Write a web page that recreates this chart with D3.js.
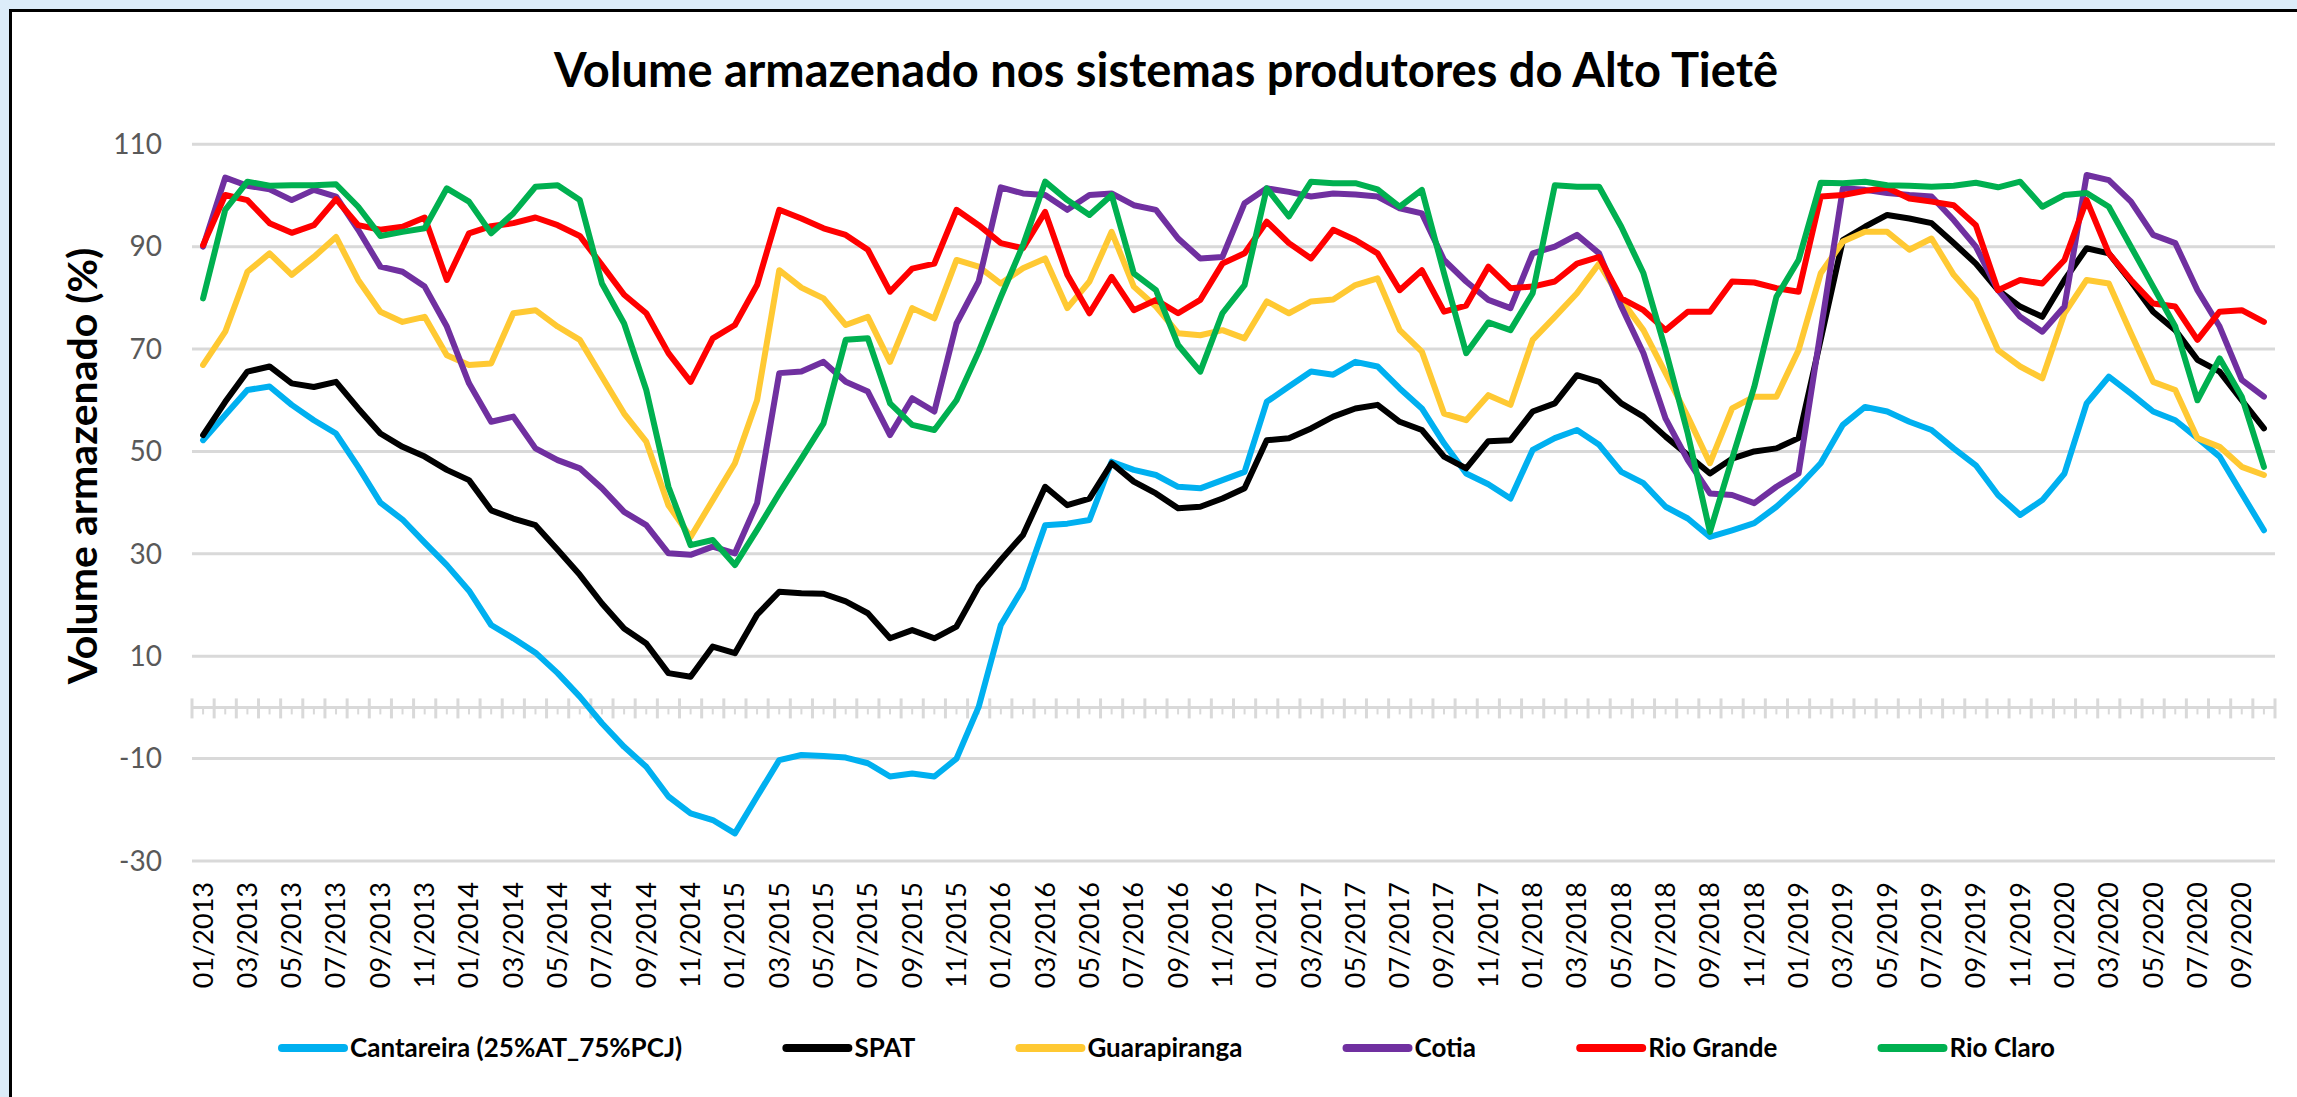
<!DOCTYPE html>
<html>
<head>
<meta charset="utf-8">
<script src="https://cdn.jsdelivr.net/npm/d3@7"></script>
<style>
  html, body { margin: 0; padding: 0; overflow: hidden; background: #dcecf9; }
  svg { display: block; }
</style>
</head>
<body>
<svg id="chart"></svg>
<script>
// monthly categories 01/2013 .. 10/2020
const months = [];
for (let yr = 2013; yr <= 2020; yr++) {
  for (let m = 1; m <= 12; m++) months.push(String(m).padStart(2, '0') + '/' + yr);
}
months.length = 94;

const yTicks = [-30, -10, 10, 30, 50, 70, 90, 110];

const cantareira = [52.2, 57.1, 62.0, 62.7, 59.1, 56.1, 53.5, 47.0, 40.0, 36.7, 32.2, 27.8, 22.8, 16.1, 13.5, 10.7, 6.7, 2.1, -3.1, -7.7,
  -11.6, -17.4, -20.7, -22.0, -24.6, -17.4, -10.3, -9.3, -9.5, -9.8, -10.9, -13.5, -12.9, -13.5, -10.0, 0.1, 16.1, 23.3, 35.6, 35.9,
  36.6, 48.0, 46.4, 45.4, 43.1, 42.8, 44.4, 46.0, 59.7, 62.7, 65.6, 65.0, 67.5, 66.6, 62.3, 58.4, 51.6, 45.7, 43.6, 40.8,
  50.3, 52.6, 54.2, 51.3, 46.0, 43.8, 39.2, 36.9, 33.3, 34.6, 36.0, 39.2, 43.1, 47.7, 55.2, 58.7, 57.8, 55.8, 54.2, 50.6,
  47.3, 41.5, 37.6, 40.5, 45.7, 59.4, 64.6, 61.3, 57.8, 56.1, 52.6, 49.0, 41.8, 34.6];

const spat = [53.2, 59.7, 65.6, 66.6, 63.3, 62.6, 63.6, 58.4, 53.5, 50.9, 49.0, 46.4, 44.4, 38.5, 36.9, 35.6, 30.8, 25.9, 20.3, 15.4,
  12.5, 6.7, 6.0, 11.9, 10.6, 18.1, 22.6, 22.3, 22.2, 20.7, 18.4, 13.5, 15.1, 13.5, 15.8, 23.6, 28.8, 33.7, 43.1, 39.5,
  40.8, 47.7, 44.1, 41.8, 38.9, 39.2, 40.8, 42.8, 52.2, 52.6, 54.5, 56.8, 58.4, 59.1, 55.8, 54.2, 49.0, 46.7, 52.0, 52.2,
  57.8, 59.4, 64.9, 63.6, 59.4, 56.8, 52.9, 49.3, 45.7, 48.6, 50.0, 50.6, 52.6, 71.9, 91.3, 93.9, 96.2, 95.5, 94.6, 90.7,
  86.7, 81.5, 78.3, 76.3, 83.5, 89.7, 88.7, 83.2, 77.3, 73.7, 67.9, 65.6, 60.0, 54.5];

const guarapiranga = [66.9, 73.4, 85.1, 88.7, 84.5, 88.0, 91.9, 83.5, 77.3, 75.3, 76.3, 68.8, 66.9, 67.2, 77.0, 77.6, 74.4, 71.8, 64.6, 57.4,
  51.9, 39.5, 33.3, 40.5, 47.7, 60.0, 85.4, 82.0, 79.9, 74.7, 76.3, 67.5, 78.0, 76.0, 87.4, 86.1, 82.8, 85.8, 87.7, 78.0,
  83.2, 92.9, 82.2, 78.3, 73.1, 72.7, 73.7, 72.1, 79.3, 77.0, 79.3, 79.7, 82.5, 83.8, 73.7, 69.5, 57.4, 56.1, 61.0, 59.1,
  71.8, 76.3, 80.9, 86.7, 79.6, 73.7, 65.3, 56.8, 47.7, 58.4, 60.7, 60.7, 69.8, 84.8, 91.0, 92.9, 92.9, 89.4, 91.6, 84.5,
  79.6, 69.8, 66.6, 64.3, 77.0, 83.5, 82.8, 73.1, 63.6, 62.0, 52.6, 50.9, 47.0, 45.4];

const cotia = [90.0, 103.5, 101.9, 101.2, 99.1, 101.1, 99.8, 93.3, 86.1, 85.1, 82.2, 74.4, 63.3, 55.8, 56.8, 50.6, 48.3, 46.7, 42.8, 38.2,
  35.6, 30.1, 29.8, 31.4, 30.1, 39.9, 65.3, 65.6, 67.5, 63.6, 61.7, 53.2, 60.4, 57.8, 75.0, 83.2, 101.6, 100.4, 100.1, 97.2,
  100.1, 100.4, 98.1, 97.2, 91.6, 87.7, 88.0, 98.5, 101.4, 100.7, 99.8, 100.4, 100.2, 99.8, 97.5, 96.5, 87.4, 83.2, 79.6, 78.0,
  88.7, 90.0, 92.3, 88.7, 78.3, 69.2, 56.4, 48.3, 41.8, 41.5, 39.9, 43.1, 45.7, 73.6, 101.4, 101.1, 100.5, 100.1, 99.8, 95.2,
  90.0, 81.5, 76.3, 73.4, 78.3, 104.0, 103.0, 98.8, 92.3, 90.7, 81.5, 74.4, 64.0, 60.7];

const rioGrande = [90.3, 100.1, 99.1, 94.6, 92.7, 94.2, 99.3, 94.2, 93.3, 93.9, 95.7, 83.5, 92.6, 94.0, 94.6, 95.7, 94.2, 92.1, 86.4, 80.6,
  77.0, 69.2, 63.6, 72.1, 74.7, 82.5, 97.2, 95.5, 93.6, 92.3, 89.4, 81.2, 85.7, 86.7, 97.2, 94.2, 90.7, 89.7, 96.8, 84.5,
  77.0, 84.1, 77.6, 79.6, 77.0, 79.6, 86.7, 88.7, 94.9, 90.7, 87.7, 93.3, 91.3, 88.7, 81.5, 85.4, 77.3, 78.5, 86.1, 81.9,
  82.2, 83.2, 86.7, 88.0, 79.9, 77.6, 73.7, 77.3, 77.3, 83.2, 83.0, 81.9, 81.2, 99.8, 100.1, 100.9, 101.5, 99.4, 98.8, 98.1,
  94.2, 81.5, 83.5, 82.8, 87.4, 99.1, 88.7, 83.5, 78.9, 78.3, 71.8, 77.3, 77.6, 75.3];

const rioClaro = [79.9, 97.2, 102.7, 101.9, 102.0, 102.0, 102.2, 97.8, 92.1, 92.9, 93.6, 101.4, 98.8, 92.6, 96.5, 101.7, 102.0, 99.1, 82.8, 75.0,
  62.0, 43.1, 31.7, 32.7, 27.8, 34.7, 41.8, 48.6, 55.5, 71.8, 72.1, 59.4, 55.2, 54.2, 60.0, 69.5, 80.2, 90.3, 102.7, 99.1,
  96.2, 100.1, 84.8, 81.5, 70.8, 65.6, 77.0, 82.5, 101.4, 95.9, 102.7, 102.4, 102.4, 101.2, 97.8, 101.1, 84.8, 69.2, 75.2, 73.7,
  80.9, 102.0, 101.7, 101.7, 93.9, 84.8, 69.8, 53.5, 34.3, 48.6, 62.6, 80.2, 87.4, 102.5, 102.4, 102.7, 102.0, 101.9, 101.7, 101.9,
  102.5, 101.6, 102.7, 97.8, 100.1, 100.5, 97.8, 90.0, 82.2, 74.4, 60.0, 68.2, 60.7, 47.0];

const seriesNames = ['Cantareira (25%AT_75%PCJ)', 'SPAT', 'Guarapiranga', 'Cotia', 'Rio Grande', 'Rio Claro'];
const seriesValues = [cantareira, spat, guarapiranga, cotia, rioGrande, rioClaro];
const seriesColors = ['#00b0f0', '#000000', '#ffc933', '#7030a0', '#ff0000', '#00b050'];

class VolumeChart {
  constructor(_config) {
    this.config = {
      parentElement: _config.parentElement,
      width: _config.width || 2297,
      height: _config.height || 1097,
      plot: { left: 192, right: 2275, top: 144.3, bottom: 861 },
      legend: { left: 278, right: 2055, y: 1048 },
      font: 'Lato, "Open Sans", sans-serif'
    };
    this.init();
  }

  init() {
    let vis = this;
    const c = vis.config;

    vis.svg = d3.select(c.parentElement)
      .attr('width', c.width)
      .attr('height', c.height)
      .style('font-family', c.font);

    // light blue frame + white chart area
    vis.svg.append('rect')
      .attr('width', c.width).attr('height', c.height)
      .attr('fill', '#dcecf9');
    vis.svg.append('rect')
      .attr('x', 10.5).attr('y', 10.5)
      .attr('width', c.width + 20).attr('height', c.height + 20)
      .attr('fill', '#fff')
      .attr('stroke', '#000')
      .attr('stroke-width', 3);

    vis.x = d3.scaleBand()
      .domain(d3.range(months.length))
      .range([c.plot.left, c.plot.right]);
    vis.y = d3.scaleLinear()
      .domain([-30, 110])
      .range([c.plot.bottom, c.plot.top]);

    vis.render();
  }

  render() {
    let vis = this;
    const c = vis.config;
    const cx = i => vis.x(i) + vis.x.bandwidth() / 2;

    vis.svg.append('text')
      .attr('x', 1166).attr('y', 87)
      .attr('text-anchor', 'middle')
      .style('font-size', '47px')
      .style('font-weight', 'bold')
      .text('Volume armazenado nos sistemas produtores do Alto Tietê');

    // gridlines + y labels
    const grid = vis.svg.append('g');
    grid.selectAll('line').data(yTicks).join('line')
      .attr('x1', c.plot.left).attr('x2', c.plot.right)
      .attr('y1', d => vis.y(d)).attr('y2', d => vis.y(d))
      .attr('stroke', '#d9d9d9').attr('stroke-width', 3);
    grid.selectAll('text').data(yTicks).join('text')
      .attr('x', 162).attr('y', d => vis.y(d))
      .attr('dy', '0.35em')
      .attr('text-anchor', 'end')
      .attr('fill', '#595959')
      .style('font-size', '28px')
      .text(d => d);

    // category axis crossing at zero
    const y0 = vis.y(0);
    const axis = vis.svg.append('g').attr('stroke', '#d9d9d9').attr('stroke-width', 3);
    axis.append('line')
      .attr('x1', c.plot.left).attr('x2', c.plot.right)
      .attr('y1', y0).attr('y2', y0);
    axis.selectAll('.major').data(d3.range(months.length + 1)).join('line')
      .attr('class', 'major')
      .attr('x1', i => c.plot.left + i * vis.x.step()).attr('x2', i => c.plot.left + i * vis.x.step())
      .attr('y1', y0 - 9).attr('y2', y0 + 11);
    axis.selectAll('.minor').data(d3.range(months.length)).join('line')
      .attr('class', 'minor')
      .attr('stroke-width', 2)
      .attr('x1', cx).attr('x2', cx)
      .attr('y1', y0).attr('y2', y0 + 7);

    // x labels, every second month, at the bottom of the plot
    vis.svg.append('g').selectAll('text')
      .data(months.map((m, i) => ({ m, i })).filter(d => d.i % 2 === 0))
      .join('text')
      .attr('transform', d => `translate(${cx(d.i)},882) rotate(-90)`)
      .attr('text-anchor', 'end')
      .attr('dy', '0.35em')
      .style('font-size', '27px')
      .text(d => d.m);

    vis.svg.append('text')
      .attr('transform', 'translate(97,466) rotate(-90)')
      .attr('text-anchor', 'middle')
      .style('font-size', '41px')
      .style('font-weight', 'bold')
      .text('Volume armazenado (%)');

    // series lines
    const line = d3.line().x((d, i) => cx(i)).y(d => vis.y(d));
    vis.svg.append('g').selectAll('path')
      .data(seriesValues).join('path')
      .attr('d', line)
      .attr('fill', 'none')
      .attr('stroke', (d, i) => seriesColors[i])
      .attr('stroke-width', 6)
      .attr('stroke-linejoin', 'round')
      .attr('stroke-linecap', 'round');

    // legend: entries spread evenly between legend.left and legend.right
    const items = vis.svg.append('g').selectAll('g').data(seriesNames).join('g');
    items.append('line')
      .attr('x1', 4).attr('x2', 66)
      .attr('stroke', (d, i) => seriesColors[i])
      .attr('stroke-width', 8)
      .attr('stroke-linecap', 'round');
    items.append('text')
      .attr('x', 72).attr('dy', '0.35em')
      .style('font-size', '26px')
      .style('font-weight', 'bold')
      .text(d => d);
    const widths = [];
    items.each(function () {
      widths.push(72 + d3.select(this).select('text').node().getComputedTextLength());
    });
    const gap = (c.legend.right - c.legend.left - d3.sum(widths)) / (widths.length - 1);
    let pos = c.legend.left;
    const starts = widths.map(w => { const s = pos; pos += w + gap; return s; });
    items.attr('transform', (d, i) => `translate(${starts[i]},${c.legend.y})`);
  }
}

new VolumeChart({ parentElement: '#chart' });
</script>
</body>
</html>
